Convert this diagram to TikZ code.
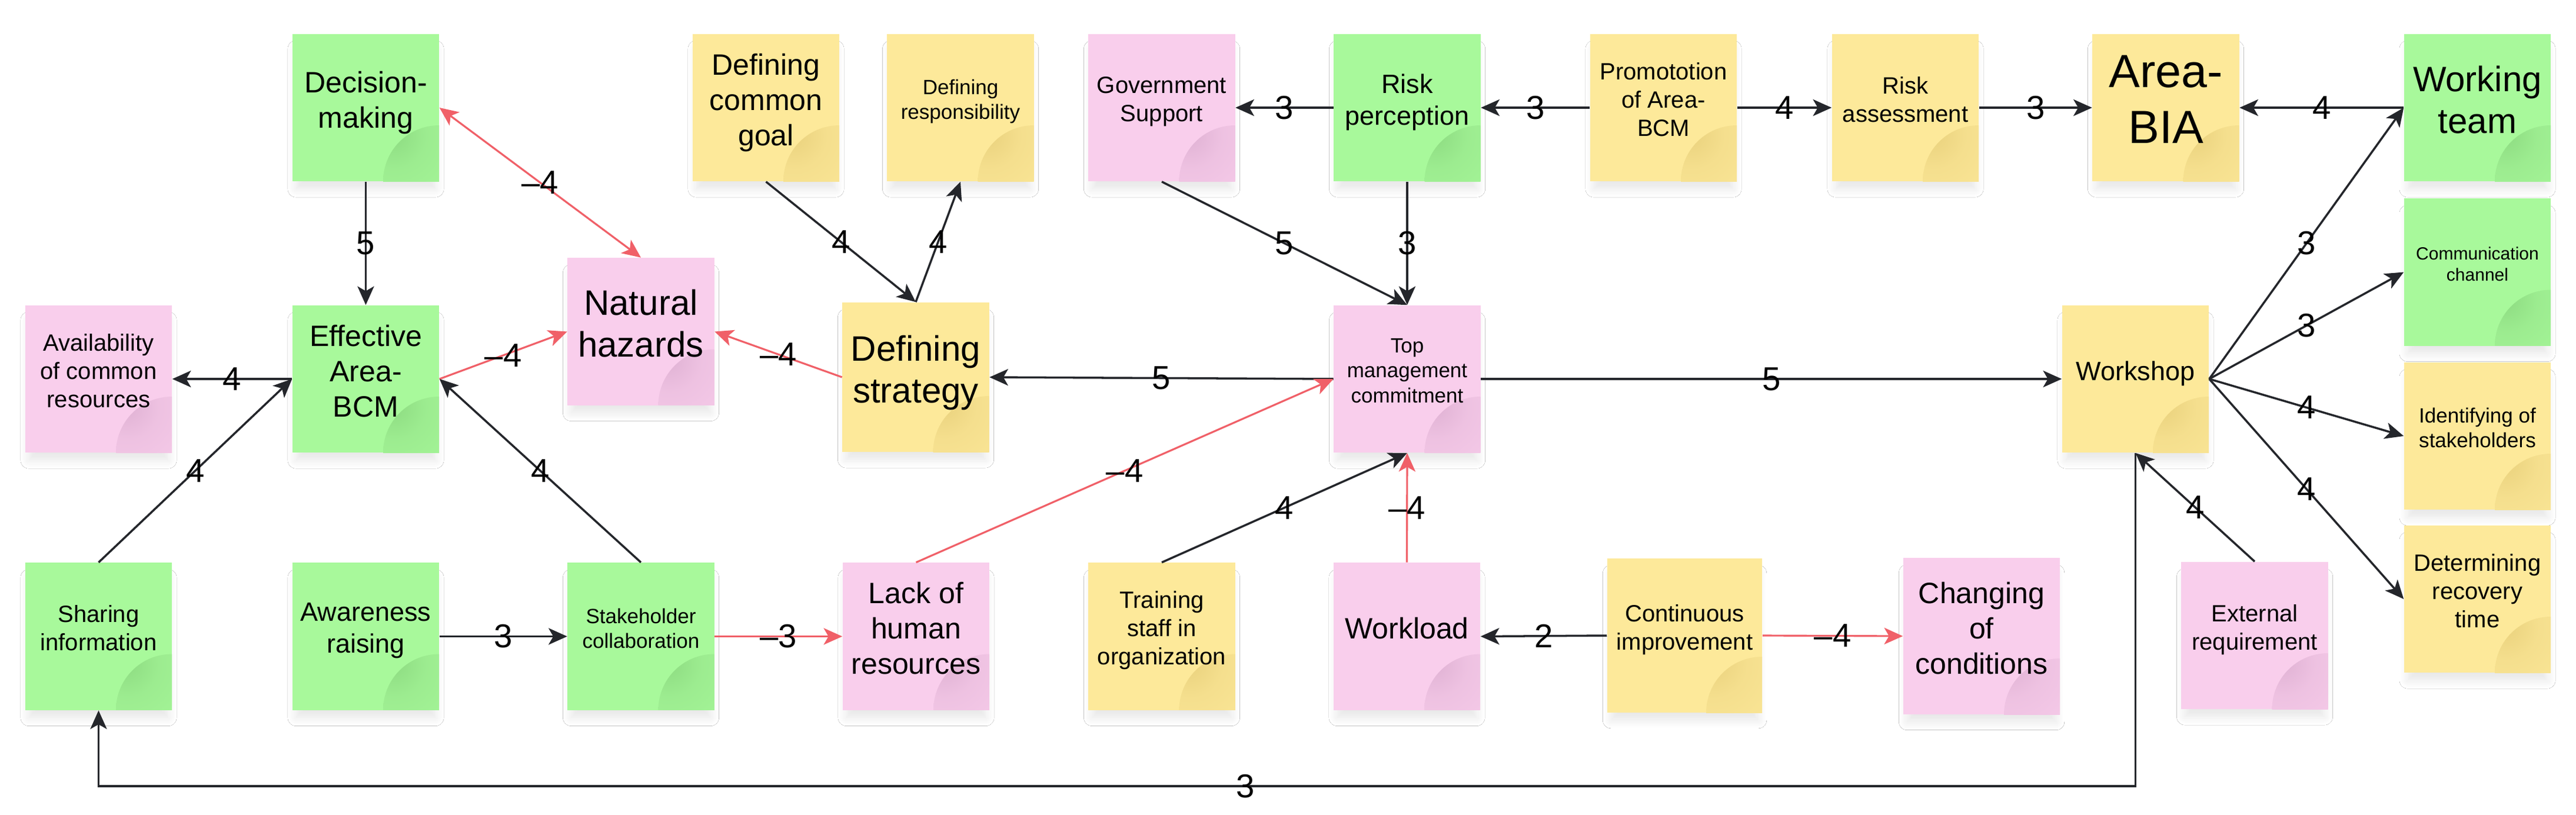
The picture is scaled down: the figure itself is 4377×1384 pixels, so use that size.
\documentclass[tikz,border=0pt]{standalone}
\usepackage{fontspec}
\setmainfont{Liberation Sans}
\usetikzlibrary{arrows.meta,shadows.blur}
\definecolor{gr}{RGB}{168,249,155}
\definecolor{grdk}{RGB}{142,220,130}
\definecolor{ye}{RGB}{253,233,154}
\definecolor{yedk}{RGB}{234,210,126}
\definecolor{pk}{RGB}{249,206,236}
\definecolor{pkdk}{RGB}{224,178,212}
\definecolor{ln}{RGB}{36,38,43}
\definecolor{rd}{RGB}{240,96,104}
\colorlet{grmd}{gr!55!grdk}\colorlet{grlt}{gr!93!grdk}
\colorlet{yemd}{ye!55!yedk}\colorlet{yelt}{ye!93!yedk}
\colorlet{pkmd}{pk!55!pkdk}\colorlet{pklt}{pk!93!pkdk}
\pgfdeclareradialshading{grcorner}{\pgfpoint{0bp}{0bp}}{color(0bp)=(grdk); color(8bp)=(grmd); color(22bp)=(grlt); color(50bp)=(gr)}
\pgfdeclareradialshading{yecorner}{\pgfpoint{0bp}{0bp}}{color(0bp)=(yedk); color(8bp)=(yemd); color(22bp)=(yelt); color(50bp)=(ye)}
\pgfdeclareradialshading{pkcorner}{\pgfpoint{0bp}{0bp}}{color(0bp)=(pkdk); color(8bp)=(pkmd); color(22bp)=(pklt); color(50bp)=(pk)}
\tikzset{
  note/.style={rectangle, inner sep=3pt, fill=#1,
    minimum width=2.49cm, minimum height=2.5cm, text depth=8pt,
    align=center, text=black,
    blur shadow={shadow xshift=0pt, shadow yshift=-0.2cm, shadow blur radius=0.15cm,
      shadow scale=0.95, shadow opacity=10, shadow blur steps=14},
    path picture={\shade[shading=#1corner] (path picture bounding box.south east) circle (0.95cm);}},
  f30/.style={font=\fontsize{8.54}{10.25}\selectfont},
  f35/.style={font=\fontsize{9.96}{11.95}\selectfont},
  f40/.style={font=\fontsize{11.38}{13.66}\selectfont},
  f45/.style={font=\fontsize{12.8}{15.36}\selectfont},
  f50/.style={font=\fontsize{14.23}{17.07}\selectfont},
  f60/.style={font=\fontsize{17.07}{20.2}\selectfont},
  f79/.style={font=\fontsize{22.48}{27.2}\selectfont},
  lab/.style={font=\fontsize{16}{19}\selectfont, text=black, inner sep=0pt},
  ar/.style={draw=ln, line width=1pt, ->},
  rar/.style={draw=rd, line width=0.9pt, ->},
}
\begin{document}
\begin{tikzpicture}[x=0.01cm, y=-0.01cm, >={Stealth[length=9pt,width=8pt,inset=2.3pt]}]
\useasboundingbox (0,0) rectangle (4377,1384);
\fill[white] (0,0) rectangle (4377,1384);
\coordinate (bl) at (0,1336);
% notes
\node[note=pk, f40] (avail) at (167.5,644) {Availability\\of common\\resources};
\node[note=gr, f50] (dm) at (621.5,183) {Decision-\\making};
\node[note=gr, f50] (eff) at (621.5,644) {Effective\\Area-\\BCM};
\node[note=pk, f60] (nat) at (1089,563.5) {Natural\\hazards};
\node[note=ye, f50] (goal) at (1301.5,183) {Defining\\common\\goal};
\node[note=ye, f35] (resp) at (1632,183) {Defining\\responsibility};
\node[note=ye, f60, minimum height=2.54cm] (strat) at (1556,641) {Defining\\strategy};
\node[note=pk, f40] (gov) at (1974,183) {Government\\Support};
\node[note=gr, f45] (riskp) at (2391,183) {Risk\\perception};
\node[note=pk, f35] (top) at (2391,644) {Top\\management\\commitment};
\node[note=ye, f40] (promo) at (2826.5,183) {Promototion\\of Area-\\BCM};
\node[note=ye, f40] (riska) at (3237.5,183) {Risk\\assessment};
\node[note=ye, f79] (bia) at (3680,183) {Area-\\BIA};
\node[note=gr, f60] (wt) at (4209.5,183) {Working\\team};
\node[note=gr, f30] (comm) at (4209.5,462.5) {Communication\\channel};
\node[note=ye, f45] (ws) at (3628.5,644) {Workshop};
\node[note=ye, f35] (ident) at (4209.5,741) {Identifying of\\stakeholders};
\node[note=ye, f40] (determ) at (4209.5,1018) {Determining\\recovery\\time};
\node[note=gr, f40] (share) at (167.5,1081.5) {Sharing\\information};
\node[note=gr, f45] (aware) at (621.5,1081.5) {Awareness\\raising};
\node[note=gr, f35] (stake) at (1089,1081.5) {Stakeholder\\collaboration};
\node[note=pk, f50] (lack) at (1556.5,1081.5) {Lack of\\human\\resources};
\node[note=ye, f40] (train) at (1974,1081.5) {Training\\staff in\\organization};
\node[note=pk, f50] (work) at (2390.5,1081.5) {Workload};
\node[note=ye, f40, minimum width=2.63cm, minimum height=2.62cm] (cont) at (2862.5,1080) {Continuous\\improvement};
\node[note=pk, f50, minimum width=2.66cm, minimum height=2.66cm] (chg) at (3367,1081) {Changing\\of\\conditions};
\node[note=pk, f40] (ext) at (3831,1080) {External\\requirement};
% connectors
\draw[ar] (dm.south) -- node[lab]{5} (eff.north);
\draw[rar,<->] (dm.east) -- node[lab]{–4} (nat.north);
\draw[rar] (eff.east) -- node[lab]{–4} (nat.west);
\draw[rar] (strat.west) -- node[lab]{–4} (nat.east);
\draw[ar] (eff.west) -- node[lab]{4} (avail.east);
\draw[ar] (share.north) -- node[lab]{4} (eff.west);
\draw[ar] (stake.north) -- node[lab]{4} (eff.east);
\draw[ar] (aware.east) -- node[lab]{3} (stake.west);
\draw[rar] (stake.east) -- node[lab]{–3} (lack.west);
\draw[ar] (goal.south) -- node[lab]{4} (strat.north);
\draw[ar] (strat.north) -- node[lab]{4} (resp.south);
\draw[ar] (gov.south) -- node[lab]{5} (top.north);
\draw[ar] (riskp.south) -- node[lab]{3} (top.north);
\draw[ar] (riskp.west) -- node[lab]{3} (gov.east);
\draw[ar] (promo.west) -- node[lab]{3} (riskp.east);
\draw[ar] (promo.east) -- node[lab]{4} (riska.west);
\draw[ar] (riska.east) -- node[lab]{3} (bia.west);
\draw[ar] (wt.west) -- node[lab]{4} (bia.east);
\draw[ar] (top.west) -- node[lab]{5} (strat.east);
\draw[ar] (top.east) -- node[lab]{5} (ws.west);
\draw[rar] (lack.north) -- node[lab]{–4} (top.west);
\draw[ar] (train.north) -- node[lab]{4} (top.south);
\draw[rar] (work.north) -- node[lab]{–4} (top.south);
\draw[ar] (cont.west) -- node[lab]{2} (work.east);
\draw[rar] (cont.east) -- node[lab]{–4} (chg.west);
\draw[ar] (ext.north) -- node[lab]{4} (ws.south);
\draw[ar] (ws.east) -- node[lab]{3} (wt.west);
\draw[ar] (ws.east) -- node[lab]{3} (comm.west);
\draw[ar] (ws.east) -- node[lab]{4} (ident.west);
\draw[ar] (ws.east) -- node[lab]{4} (determ.west);
\draw[ar] (ws.south) -- (ws.south |- bl) -- node[lab,pos=0.437]{3} (share.south |- bl) -- (share.south);
\end{tikzpicture}
\end{document}
